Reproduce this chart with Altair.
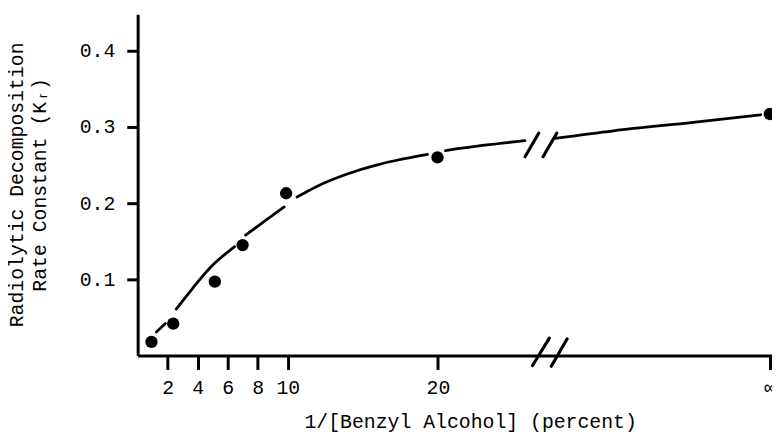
import altair as alt
import pandas as pd

# ---- data ----
# measured points (x in plot units; the last point is the "infinity" value)
pt_x = [0.92, 2.37, 5.14, 6.99, 9.89, 19.97, 42.1]
pt_y = [0.018, 0.042, 0.097, 0.145, 0.213, 0.260, 0.317]

# hand-drawn fitted curve, drawn as separate pieces (gaps around points / break)
curve_seg = ["A", "A",
             "B", "B", "B", "B",
             "C", "C", "C",
             "D", "D", "D", "D", "D", "D",
             "E", "E", "E",
             "F", "F", "F", "F"]
curve_x = [1.25, 1.85,
           2.57, 3.69, 4.81, 6.46,
           7.19, 8.5, 9.76,
           10.61, 11.93, 13.91, 15.89, 17.2, 19.31,
           20.5, 23.1, 25.8,
           27.8, 31.7, 37.0, 41.5]
curve_y = [0.031, 0.042,
           0.061, 0.089, 0.115, 0.143,
           0.158, 0.177, 0.195,
           0.208, 0.222, 0.238, 0.250, 0.256, 0.264,
           0.269, 0.276, 0.282,
           0.285, 0.295, 0.306, 0.316]

# axis-break slashes (on x axis and on the curve)
brk_x = [26.3, 27.55, 25.8, 27.0]
brk_x2 = [27.42, 28.61, 26.72, 27.92]
brk_y = [-0.013, -0.014, 0.261, 0.261]
brk_y2 = [0.023, 0.022, 0.292, 0.292]

x_tick_vals = [2, 4, 6, 8, 10, 20, 42.1]
x_tick_text = ["2", "4", "6", "8", "10", "20", "∞"]
y_tick_vals = [0.1, 0.2, 0.3, 0.4]

x_title = "1/[Benzyl Alcohol] (percent)"
y_title = ["Radiolytic Decomposition", "Rate Constant (Kᵣ)"]

X_DOMAIN = [0, 42.25]
Y_DOMAIN = [0, 0.448]

points = pd.DataFrame({"x": pt_x, "y": pt_y})
curve = pd.DataFrame({"x": curve_x, "y": curve_y, "seg": curve_seg})
breaks = pd.DataFrame({"x": brk_x, "x2": brk_x2, "y": brk_y, "y2": brk_y2})

FONT = "Liberation Mono"

label_map = "{" + ",".join(f"'{v}':'{t}'" for v, t in zip(x_tick_vals, x_tick_text)) + "}"

x_axis = alt.Axis(
    values=x_tick_vals,
    labelExpr=f"{label_map}[datum.value + ''] || datum.label",
    title=x_title,
    titleX=336, titleY=73, titleAlign="center", titleBaseline="alphabetic",
    titleAnchor="start",
    labelFlush=False, labelOverlap=False,
    tickSize=14, labelPadding=8,
)
y_axis = alt.Axis(
    values=y_tick_vals, format=".1f",
    title=y_title,
    titleX=-116, titleY=172, titleAlign="center", titleBaseline="alphabetic",
    titleAngle=270, titleLineHeight=23,
    labelFlush=False, labelOverlap=False,
    tickSize=11, labelPadding=12,
)

xs = alt.Scale(domain=X_DOMAIN, nice=False, zero=False)
ys = alt.Scale(domain=Y_DOMAIN, nice=False, zero=False)

X = alt.X("x:Q", scale=xs, axis=x_axis)
Y = alt.Y("y:Q", scale=ys, axis=y_axis)

curve_layer = alt.Chart(curve).mark_line(
    color="black", strokeWidth=2.8, interpolate="monotone", strokeCap="round"
).encode(x=X, y=Y, detail="seg:N", order="x:Q")
point_layer = alt.Chart(points).mark_circle(color="black", opacity=1, size=155).encode(x=X, y=Y)
break_layer = alt.Chart(breaks).mark_rule(color="black", strokeWidth=3.2, strokeCap="round").encode(
    x=X, x2="x2:Q", y=Y, y2="y2:Q"
)

chart = alt.layer(curve_layer, point_layer, break_layer).properties(
    width=641, height=345,
    autosize=alt.AutoSizeParams(type="none"),
    padding={"left": 131, "top": 4, "right": 0, "bottom": 76},
    background="white",
).configure_view(stroke=None).configure_axis(
    grid=False,
    domainColor="black", domainWidth=3,
    tickColor="black", tickWidth=3,
    labelFont=FONT, labelFontSize=20, labelColor="black",
    titleFont=FONT, titleFontSize=20, titleFontWeight="normal", titleColor="black",
)

chart.save("out.html", embed_options={"renderer": "svg", "actions": False})
